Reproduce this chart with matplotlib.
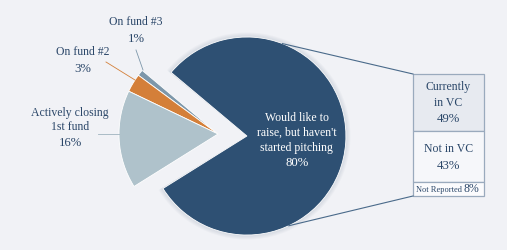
#!/usr/bin/env python3
# pie chart with an exploded slice and a breakdown column
import numpy as np
import matplotlib.pyplot as plt
from matplotlib.patches import Wedge

# pie data (order: big slice first, then counter-clockwise)
pie_labels = ["Would like to\nraise, but haven't\nstarted pitching", "On fund #3", "On fund #2", "Actively closing\n1st fund"]
pie_vals = [80, 1, 3, 16]
pie_colors = ["#2e5073", "#7d97aa", "#d47f39", "#afc2cb"]

# breakdown of the big slice
vc_labels = ["Currently\nin VC", "Not in VC", "Not Reported"]
vc_vals = [49, 43, 8]
vc_colors = ["#e7eaf0", "#f6f7fa", "#fbfbfd"]

bg = "#f1f2f6"
navy = "#2b4769"
fs = 8.5
fp = 9.2

plt.rcParams['font.family'] = ['Liberation Serif', 'DejaVu Serif']

fig = plt.figure(figsize=(5.07, 2.51), dpi=100, facecolor=bg)
ax = fig.add_axes([0, 0, 1, 1])
ax.set_facecolor(bg)

R = 99
wedges, _ = ax.pie(pie_vals, colors=pie_colors, startangle=212, counterclock=True,
                   radius=R, center=(218, 116), explode=[29, 0, 0, 0],
                   wedgeprops=dict(edgecolor='white', linewidth=0.6))
big = wedges[0]

# soft shadow behind the big slice
for k in range(5):
  sh = Wedge(big.center, big.r + 0.5 + k, big.theta1 - 0.5, big.theta2 + 0.5,
             facecolor='#6b7b95', alpha=0.045, edgecolor='none', zorder=0)
  ax.add_patch(sh)

ax.set_xlim(0, 507)
ax.set_ylim(0, 251)
ax.set_aspect('equal')
ax.axis('off')

# center label
ax.text(big.center[0] + 50, 118, pie_labels[0], color='white', fontsize=fs,
        ha='center', va='center', linespacing=1.35)
ax.text(big.center[0] + 50, 88, f"{pie_vals[0]}%", color='white', fontsize=fp,
        ha='center', va='center')

# outside labels with leader lines
ax.text(136, 229, pie_labels[1], color=navy, fontsize=fs, ha='center', va='center')
ax.text(136, 212, f"{pie_vals[1]}%", color=navy, fontsize=fp, ha='center', va='center')
ax.plot([136, 143], [200, 180], color='#7d97aa', lw=0.6)

ax.text(83, 199, pie_labels[2], color=navy, fontsize=fs, ha='center', va='center')
ax.text(83, 182, f"{pie_vals[2]}%", color=navy, fontsize=fp, ha='center', va='center')
ax.plot([106, 135], [188, 170], color='#d47f39', lw=0.6)

ax.text(70, 131, pie_labels[3], color=navy, fontsize=fs, ha='center', va='center',
        linespacing=1.3)
ax.text(70, 108, f"{pie_vals[3]}%", color=navy, fontsize=fp, ha='center', va='center')
ax.plot([98, 119], [116, 116], color='#9fb3bf', lw=0.6)

# breakdown column
disp = [max(v, 12) for v in vc_vals]
scale = 122 / sum(disp)
top = 176
bx, bw = 448.5, 71
bottoms = []
for v, c in zip(disp, vc_colors):
  h = v * scale
  ax.bar(bx, h, width=bw, bottom=top - h, color=c, edgecolor='#9aaabd', linewidth=0.9)
  bottoms.append(top - h)
  top -= h

heights = [v * scale for v in disp]
ax.text(bx, 156, vc_labels[0], color=navy, fontsize=fs,
        ha='center', va='center', linespacing=1.35)
ax.text(bx, 132, f"{vc_vals[0]}%", color=navy, fontsize=fp,
        ha='center', va='center')
ax.text(bx, 102, vc_labels[1], color=navy, fontsize=fs,
        ha='center', va='center')
ax.text(bx, 85, f"{vc_vals[1]}%", color=navy, fontsize=fp,
        ha='center', va='center')
ax.text(bx - 10, bottoms[2] + heights[2] / 2, vc_labels[2], color=navy, fontsize=6,
        ha='center', va='center')
ax.text(bx + 23, bottoms[2] + heights[2] / 2 + 0.5, f"{vc_vals[2]}%", color=navy, fontsize=8.5,
        ha='center', va='center')

# connector lines from the big slice to the column
cx, cy = big.center
for ang, yb in [(69, bottoms[0] + heights[0]), (-65, bottoms[2])]:
  a = np.radians(ang)
  ax.plot([cx + big.r * np.cos(a), bx - bw / 2], [cy + big.r * np.sin(a), yb],
          color='#4a6a8a', lw=0.8)

fig.savefig('out.png', dpi=100, facecolor=bg)
